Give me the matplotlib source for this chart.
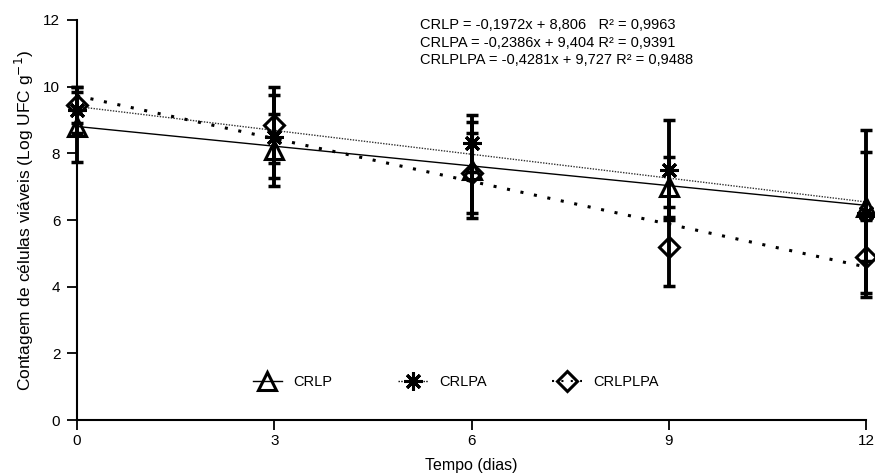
import numpy as np
import matplotlib
matplotlib.use("Agg")
import matplotlib.pyplot as plt
from matplotlib.lines import Line2D

plt.rcParams['font.family'] = ['Liberation Sans', 'DejaVu Sans']

# data
days = [0, 3, 6, 9, 12]
crlp = [8.8, 8.1, 7.5, 7.0, 6.4]
crlp_err = [1.05, 1.08, 1.45, 0.9, 1.64]
crlpa = [9.3, 8.5, 8.3, 7.5, 6.2]
crlpa_err = [0.7, 1.25, 0.85, 1.5, 2.5]
crlplpa = [9.45, 8.85, 7.4, 5.2, 4.9]
crlplpa_err = [0.55, 1.15, 1.2, 1.18, 1.1]

# regression coefficients (slope, intercept) printed on the chart
fit_crlp = (-0.1972, 8.806)
fit_crlpa = (-0.2386, 9.404)
fit_crlplpa = (-0.4281, 9.727)
eq_lines = [
    "CRLP = -0,1972x + 8,806   R² = 0,9963",
    "CRLPA = -0,2386x + 9,404 R² = 0,9391",
    "CRLPLPA = -0,4281x + 9,727 R² = 0,9488",
]

fig = plt.figure(figsize=(8.75, 4.76), dpi=100)
ax = fig.add_axes([0.088, 0.1176, 0.902, 0.8404])

xfit = np.array([days[0], days[-1]])
ls_a = (0, (1, 1))
ls_b = (0, (1, 3.5))
ax.plot(xfit, fit_crlp[0] * xfit + fit_crlp[1], color='black', lw=1.0)
ax.plot(xfit, fit_crlpa[0] * xfit + fit_crlpa[1], color='#333333', lw=1.0, linestyle=ls_a)
ax.plot(xfit, fit_crlplpa[0] * xfit + fit_crlplpa[1], color='black', lw=2.2, linestyle=ls_b)

ebkw = dict(fmt='none', ecolor='black', elinewidth=2.8, capsize=4, capthick=2.5, zorder=3)
for vals, errs in [(crlp, crlp_err), (crlpa, crlpa_err), (crlplpa, crlplpa_err)]:
    eb = ax.errorbar(days, vals, yerr=errs, **ebkw)
    for art in eb.lines[1] + eb.lines[2]:
        art.set_clip_on(False)

mk = dict(linestyle='none', markerfacecolor='none', markeredgecolor='black', zorder=4,
          clip_on=False)
ax.plot(days, crlp, marker='^', markersize=13, markeredgewidth=2.2, **mk)
ax.plot(days, crlpa, marker=(8, 2, 0), markersize=13, markeredgewidth=2.2, **mk)
ax.plot(days, crlplpa, marker='D', markersize=10, markeredgewidth=2.2, **mk)

ax.set_xlim(0, 12)
ax.set_ylim(0, 12)
ax.set_xticks([0, 3, 6, 9, 12])
ax.set_yticks([0, 2, 4, 6, 8, 10, 12])
ax.spines['top'].set_visible(False)
ax.spines['right'].set_visible(False)
ax.spines['left'].set_linewidth(1.5)
ax.spines['bottom'].set_linewidth(1.5)
ax.tick_params(direction='out', length=7, width=1.3, labelsize=11)
ax.tick_params(axis='x', pad=3)
ax.tick_params(axis='y', pad=5)
ax.set_xlabel("Tempo (dias)", fontsize=11.5, labelpad=7)
ax.set_ylabel("Contagem de células viáveis (Log UFC g$^{-1}$)", fontsize=12.5, labelpad=5)

ax.text(0.435, 0.943, "\n".join(eq_lines), transform=ax.transAxes, fontsize=10.5,
        va='center', ha='left', linespacing=1.3)

handles = [
    Line2D([], [], color='black', lw=1.0, marker='^', markersize=13,
           markerfacecolor='none', markeredgewidth=2.2),
    Line2D([], [], color='black', lw=1.0, linestyle=ls_a, marker=(8, 2, 0), markersize=13,
           markeredgewidth=2.2),
    Line2D([], [], color='black', lw=1.5, linestyle=ls_b, marker='D', markersize=10,
           markerfacecolor='none', markeredgewidth=2.2),
]
ax.legend(handles, ["CRLP", "CRLPA", "CRLPLPA"], loc='center', bbox_to_anchor=(0.48, 0.095),
          ncol=3, frameon=False, fontsize=10.5, handlelength=2.0, columnspacing=4.5,
          handletextpad=0.8)

fig.savefig("out.png", dpi=100)
